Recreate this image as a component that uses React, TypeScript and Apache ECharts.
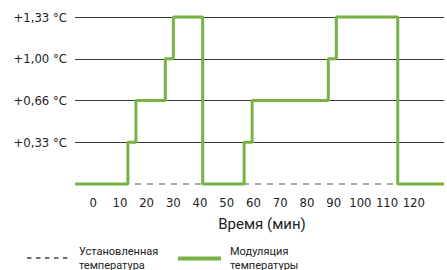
import React, { useEffect, useRef } from "react";
import * as echarts from "echarts";

// Time (min) at which each level begins, and level index (0..4 = 0, 0.33, 0.66, 1.00, 1.33 °C)
const stepTimes = [-6.8, 13, 16, 27, 30, 41, 56.5, 59.5, 88, 91, 114, 131.3];
const stepLevels = [0, 1, 2, 3, 4, 0, 1, 2, 3, 4, 0, 0];
const setTimes = [-6.8, 131.3];
const setLevels = [0, 0];
const xTickLabels = [0, 10, 20, 30, 40, 50, 60, 70, 80, 90, 100, 110, 120];
const yTickLabels = ["", "+0,33 °C", "+0,66 °C", "+1,00 °C", "+1,33 °C"];
const xAxisName = "Время (мин)";
const legendSet = "Установленная\nтемпература";
const legendMod = "Модуляция\nтемпературы";

const GREEN = "#78b243";
const CONDENSED = "'Liberation Sans Narrow', 'DejaVu Sans Condensed', 'Roboto Condensed', sans-serif";
const SANS = "Roboto, 'Open Sans', 'Noto Sans', sans-serif";

export default function App() {
  const ref = useRef<HTMLDivElement>(null);
  useEffect(() => {
    if (!ref.current) return;
    const chart = echarts.init(ref.current, undefined, { renderer: "svg" });
    chart.setOption({
      animation: false,
      backgroundColor: "#ffffff",
      grid: { left: 75, right: 0, top: 17, bottom: 86, containLabel: false },
      xAxis: {
        type: "value",
        min: setTimes[0],
        max: setTimes[1],
        splitNumber: 13,
        minInterval: 10,
        maxInterval: 10,
        axisLine: { show: false },
        axisTick: { show: false },
        splitLine: { show: false },
        axisLabel: {
          margin: 12,
          fontSize: 13,
          fontFamily: CONDENSED,
          color: "#222",
          showMinLabel: true,
          showMaxLabel: true,
          formatter: (v: number) => (xTickLabels.some((t) => Math.abs(t - v) < 1e-6) ? String(Math.round(v)) : ""),
        },
      },
      yAxis: {
        type: "value",
        min: 0,
        max: 4,
        interval: 1,
        axisLine: { show: false },
        axisTick: { show: false },
        splitLine: { show: true, showMinLine: false, lineStyle: { color: "#3a3a3a", width: 1 } },
        axisLabel: {
          margin: 8,
          fontSize: 13,
          fontFamily: CONDENSED,
          color: "#222",
          formatter: (v: number) => yTickLabels[Math.round(v)] ?? "",
        },
      },
      series: [
        {
          type: "line",
          data: setTimes.map((t, i) => [t, setLevels[i]]),
          symbol: "none",
          lineStyle: { color: "#8a8a8a", width: 1.5, type: [6, 6] },
          z: 2,
          clip: false,
        },
        {
          type: "line",
          step: "end",
          data: stepTimes.map((t, i) => [t, stepLevels[i]]),
          symbol: "none",
          lineStyle: { color: GREEN, width: 3 },
          z: 3,
          clip: false,
        },
      ],
      graphic: [
        {
          type: "text",
          x: 262,
          y: 224,
          style: { text: xAxisName, fontSize: 15, fontFamily: SANS, fill: "#222", align: "center", verticalAlign: "middle" },
        },
        {
          type: "line",
          shape: { x1: 27, y1: 258, x2: 69, y2: 258 },
          style: { stroke: "#444", lineWidth: 1.3, lineDash: [4.5, 4.5] },
        },
        {
          type: "text",
          x: 79,
          y: 258,
          style: { text: legendSet, fontSize: 11, lineHeight: 14, fontFamily: SANS, fill: "#222", align: "left", verticalAlign: "middle" },
        },
        {
          type: "line",
          shape: { x1: 178, y1: 258.5, x2: 221, y2: 258.5 },
          style: { stroke: GREEN, lineWidth: 4 },
        },
        {
          type: "text",
          x: 230,
          y: 258,
          style: { text: legendMod, fontSize: 11, lineHeight: 14, fontFamily: SANS, fill: "#222", align: "left", verticalAlign: "middle" },
        },
      ],
    });
    return () => chart.dispose();
  }, []);
  return <div ref={ref} style={{ position: "fixed", left: 0, top: 0, width: 447, height: 270 }} />;
}
